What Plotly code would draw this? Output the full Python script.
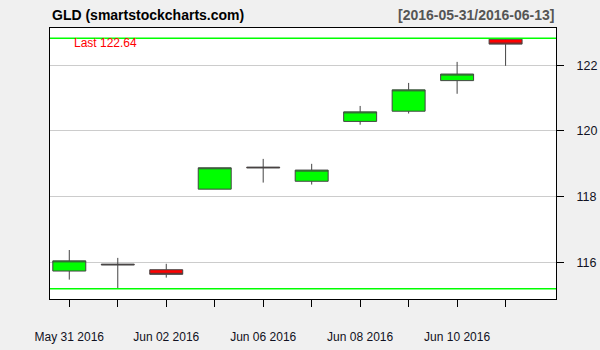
import plotly.graph_objects as go

dates = ["2016-05-31", "2016-06-01", "2016-06-02", "2016-06-03", "2016-06-06",
         "2016-06-07", "2016-06-08", "2016-06-09", "2016-06-10", "2016-06-13"]
open_ = [115.74, 115.95, 115.78, 118.23, 118.90, 118.47, 120.29, 120.60, 121.53, 122.79]
high = [116.38, 116.14, 115.96, 118.88, 119.15, 119.00, 120.76, 121.46, 122.10, 122.82]
low = [115.48, 115.20, 115.54, 118.23, 118.43, 118.37, 120.19, 120.53, 121.13, 121.98]
close = [116.05, 115.93, 115.64, 118.88, 118.88, 118.81, 120.58, 121.25, 121.73, 122.64]
x_labels = ["May 31 2016", "", "Jun 02 2016", "", "Jun 06 2016", "",
            "Jun 08 2016", "", "Jun 10 2016", ""]
y_ticks = [116, 118, 120, 122]

xs = list(range(len(dates)))
FONT = "Liberation Sans, Arial, sans-serif"

fig = go.Figure()
fig.add_trace(go.Candlestick(
    x=xs, open=open_, high=high, low=low, close=close,
    increasing=dict(fillcolor="#00ff00", line=dict(color="#444444", width=1)),
    decreasing=dict(fillcolor="#ff0000", line=dict(color="#444444", width=1)),
    whiskerwidth=0, showlegend=False, hoverinfo="skip",
))

hi, lo = max(high), min(low)
for v in (hi, lo):
    fig.add_shape(type="line", xref="paper", x0=0, x1=1, yref="y", y0=v, y1=v,
                  line=dict(color="#00ff00", width=1.5))

H = 271
fig.add_annotation(xref="paper", yref="paper", x=0, y=1 + 13 / H,
                   text="<b>GLD (smartstockcharts.com)</b>", showarrow=False,
                   xanchor="left", yanchor="middle",
                   font=dict(family=FONT, size=14, color="#000000"))
fig.add_annotation(xref="paper", yref="paper", x=1, y=1 + 13 / H,
                   text="<b>[%s/%s]</b>" % (dates[0], dates[-1]), showarrow=False,
                   xanchor="right", yanchor="middle",
                   font=dict(family=FONT, size=14, color="#555555"))
fig.add_annotation(xref="paper", yref="paper", x=22 / 506, y=1 - 15 / H,
                   text="Last %.2f" % close[-1], showarrow=False,
                   xanchor="left", yanchor="middle",
                   font=dict(family=FONT, size=12, color="#ff0000"))

fig.update_layout(
    width=600, height=350,
    margin=dict(l=50, r=44, t=28, b=51),
    paper_bgcolor="#f0f0f0", plot_bgcolor="#ffffff",
    boxgap=0.32, boxgroupgap=0,
    xaxis=dict(
        range=[-0.398, 10.04], rangeslider=dict(visible=False),
        tickmode="array", tickvals=xs, ticktext=x_labels,
        ticks="outside", ticklen=7, tickcolor="#000000",
        showgrid=False, zeroline=False, automargin=False,
        showline=True, linecolor="#000000", linewidth=1, mirror=True,
        tickfont=dict(family=FONT, size=12, color="#111122"),
        ticklabelstandoff=20,
    ),
    yaxis=dict(
        side="right", range=[114.89, 123.13],
        tickmode="array", tickvals=y_ticks, ticktext=[str(t) for t in y_ticks],
        ticks="outside", ticklen=7, tickcolor="#000000",
        showgrid=True, gridcolor="#cccccc", gridwidth=1, zeroline=False,
        automargin=False,
        showline=True, linecolor="#000000", linewidth=1, mirror=True,
        tickfont=dict(family=FONT, size=12.5, color="#111122"),
        ticklabelstandoff=10,
    ),
)

fig.write_html("out.html")
